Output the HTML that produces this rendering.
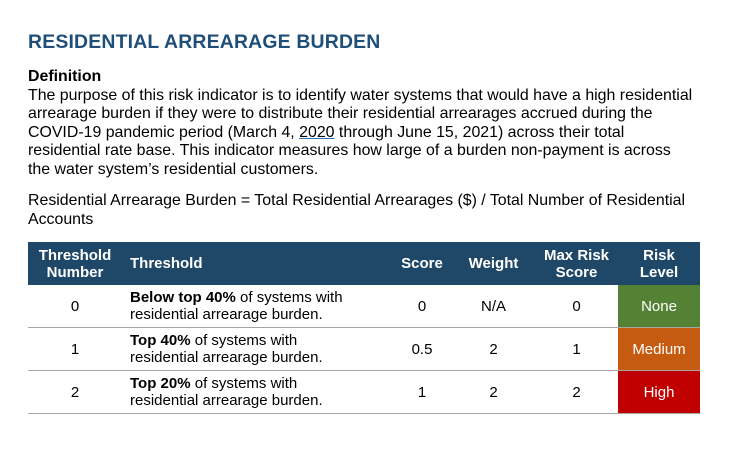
<!DOCTYPE html>
<html><head><meta charset="utf-8"><style>
body{margin:0;width:743px;height:463px;background:#fff;font-family:"Liberation Sans",Arial,sans-serif;color:#000;position:relative;overflow:hidden}
.t{position:absolute;left:28px;top:31px;font-size:19.4px;font-weight:bold;color:#1f4e79;letter-spacing:0.2px;white-space:nowrap}
.d{position:absolute;left:28px;top:68px;font-size:15.9px;line-height:18.5px;white-space:nowrap}
.f{position:absolute;left:28px;top:192px;font-size:15.9px;line-height:18.5px;white-space:nowrap}
table{position:absolute;left:28px;top:242px;border-collapse:collapse;font-size:15px;line-height:17px}
th{background:#1f4868;color:#fff;font-weight:bold;height:43px;padding:0;text-align:center}
td{height:42px;border-bottom:1px solid #a6a6a6;text-align:center;padding:0}
td.l,th.l{text-align:left;padding-left:8px}
.g{background:#548235;color:#fff}.o{background:#c55a11;color:#fff}.r{background:#c00000;color:#fff}
u{text-decoration-color:#2e74b5}
</style></head><body>
<div class="t">RESIDENTIAL ARREARAGE BURDEN</div>
<div class="d"><b>Definition</b><br>The purpose of this risk indicator is to identify water systems that would have a high residential<br>arrearage burden if they were to distribute their residential arrearages accrued during the<br>COVID-19 pandemic period (March 4, <u>2020</u> through June 15, 2021) across their total<br>residential rate base. This indicator measures how large of a burden non-payment is across<br>the water system’s residential customers.</div>
<div class="f">Residential Arrearage Burden = Total Residential Arrearages ($) / Total Number of Residential<br>Accounts</div>
<table>
<tr><th style="width:94px">Threshold<br>Number</th><th class="l" style="width:262px">Threshold</th><th style="width:60px">Score</th><th style="width:83px">Weight</th><th style="width:83px">Max Risk<br>Score</th><th style="width:82px">Risk<br>Level</th></tr>
<tr><td>0</td><td class="l"><b>Below top 40%</b> of systems with<br>residential arrearage burden.</td><td>0</td><td>N/A</td><td>0</td><td class="g">None</td></tr>
<tr><td>1</td><td class="l"><b>Top 40%</b> of systems with<br>residential arrearage burden.</td><td>0.5</td><td>2</td><td>1</td><td class="o">Medium</td></tr>
<tr><td>2</td><td class="l"><b>Top 20%</b> of systems with<br>residential arrearage burden.</td><td>1</td><td>2</td><td>2</td><td class="r">High</td></tr>
</table>
</body></html>
